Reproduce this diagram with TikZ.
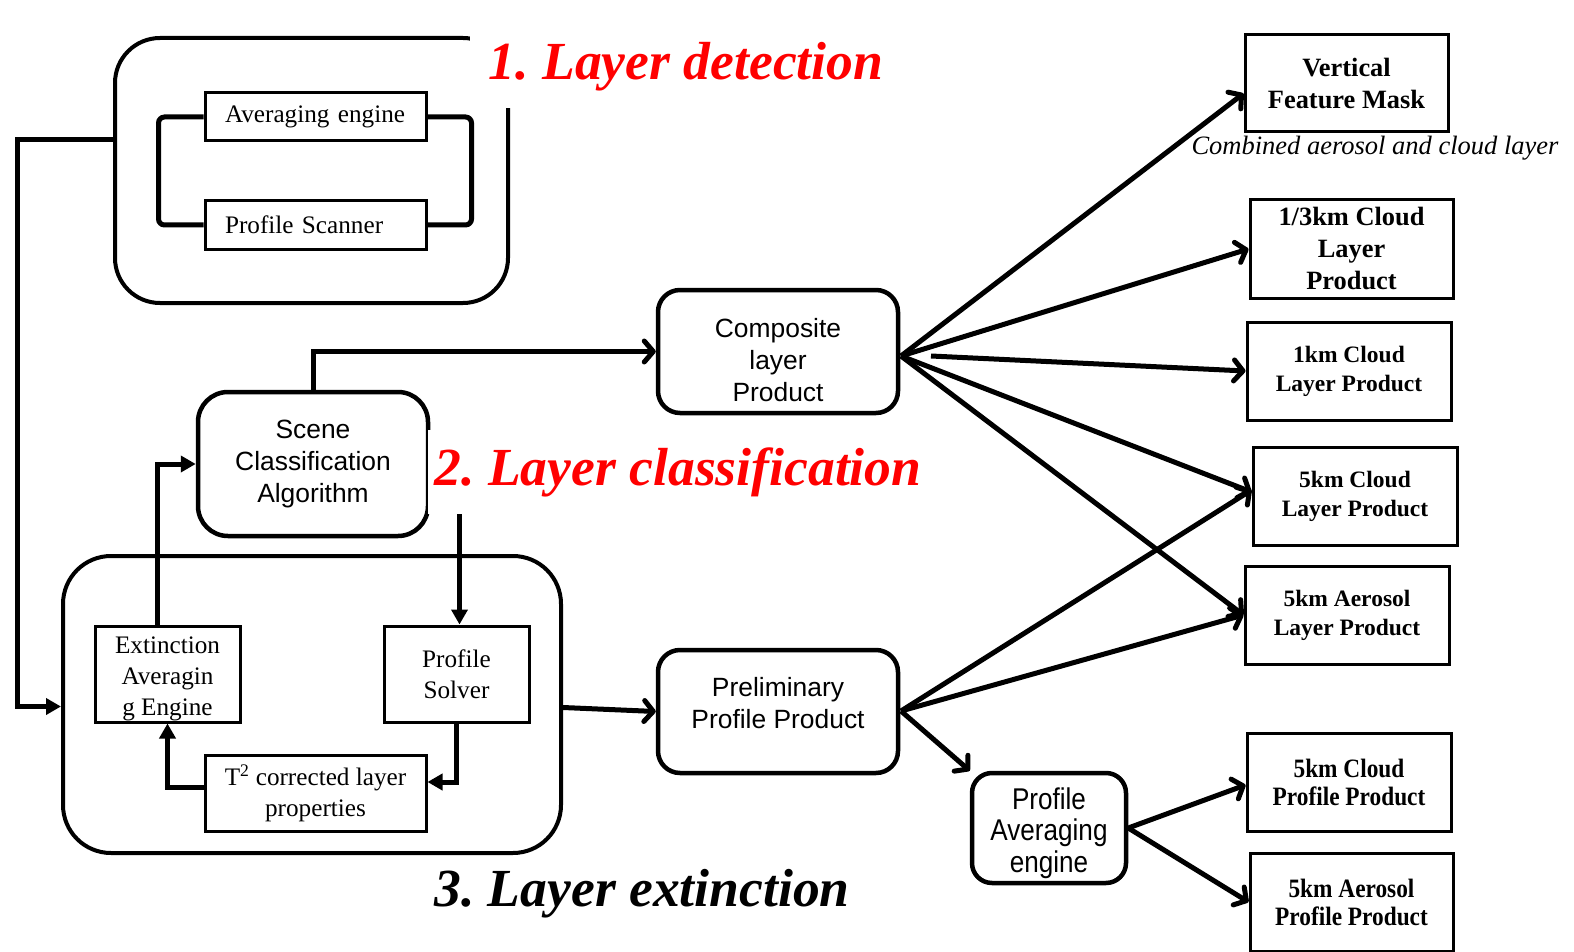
\documentclass[tikz,border=0pt]{standalone}
\usepackage{fontspec}
\setmainfont{Liberation Serif}
\newfontfamily\arialfont{Liberation Sans}
\newfontfamily\narrowarial[FakeStretch=0.87]{Liberation Sans}
\newfontfamily\condserif[FakeStretch=0.88]{Liberation Serif}
\usetikzlibrary{arrows.meta}
\frenchspacing

% text sizes (1pt = 1 pixel of the layout grid)
\newcommand\serifsz{\fontsize{25.2pt}{31pt}\selectfont}
\newcommand\sanssz{\arialfont\fontsize{26.4pt}{32pt}\selectfont}
\newcommand\narrowsz{\narrowarial\fontsize{30pt}{31.5pt}\selectfont}
\newcommand\bigprodsz{\fontsize{26.4pt}{32pt}\selectfont\bfseries}
\newcommand\prodsz{\fontsize{23.5pt}{29pt}\selectfont\bfseries}
\newcommand\condsz{\condserif\fontsize{26.5pt}{28pt}\selectfont\bfseries}
\newcommand\capsz{\fontsize{26.5pt}{31pt}\selectfont\itshape}
\newcommand\titlesz{\fontsize{53.6pt}{60pt}\selectfont\bfseries\itshape}

\begin{document}
\begin{tikzpicture}[x=1pt,y=-1pt,
  rbox/.style={draw, line width=3pt, inner sep=0pt, align=center, font=\serifsz},
  prodbox/.style={draw, line width=3pt, inner sep=0pt, align=center,
                  minimum width=204pt, minimum height=98pt},
  rrbox/.style={draw, line width=4.5pt, rounded corners=22pt, inner sep=0pt,
                align=center, font=\sanssz},
  boxtext/.style={inner sep=0pt, align=center, font=\sanssz},
  gbox/.style={draw, line width=4pt, inner sep=0pt},
  conn/.style={line width=5pt},
  openarr/.style={conn, -{Straight Barb[length=9pt,width=21pt,round]}},
  fillarr/.style={conn, -{Triangle[length=15pt,width=16pt]}},
  title/.style={inner sep=0pt, font=\titlesz},
]
\path[use as bounding box] (0,0) rectangle (1574,952);

% ---- group frames ----
\node[gbox, rounded corners=45pt, minimum width=393pt, minimum height=265pt] (det) at (311.5,170.5) {};
\node[gbox, rounded corners=48pt, minimum width=498pt, minimum height=297pt] (ext) at (312,704.5) {};

% ---- layer detection ----
\node[rbox, align=left, text width=181pt, inner xsep=20pt, minimum height=48pt] (avg) at (315.5,117) {Averaging engine};
\node[rbox, align=left, text width=181pt, inner xsep=20pt, minimum height=48pt] (scan) at (315.5,225) {Profile Scanner};

% ---- layer extinction ----
\node[rbox, minimum width=145pt, minimum height=96pt] (eae) at (167.5,674) {};
\node[boxtext, font=\serifsz] (eaeT) at ([yshift=-5pt]eae.center) {Extinction\\Averagin\\g Engine};
\node[rbox, minimum width=145pt, minimum height=96pt] (solver) at (456.5,674) {Profile\\Solver};
\node[rbox, minimum width=221pt, minimum height=76pt] (t2b) at (315.5,793) {T\textsuperscript{2} corrected layer\\properties};

% ---- classification and intermediate products ----
\node[rrbox, rounded corners=30pt, minimum width=230pt, minimum height=144pt] (scene) at (313,464) {Scene\\Classification\\Algorithm};
\node[rrbox, minimum width=240pt, minimum height=123pt] (comp) at (778,351.5) {};
\node[boxtext] (compT) at ([yshift=-8.5pt]comp.center) {Composite\\layer\\Product};
\node[rrbox, minimum width=240pt, minimum height=123pt] (prelim) at (778,711.5) {};
\node[boxtext] (prelimT) at ([yshift=8pt]prelim.center) {Preliminary\\Profile Product};
\node[rrbox, rounded corners=20pt, minimum width=154pt, minimum height=110pt] (pavg) at (1049,828) {};
\node[boxtext, font=\narrowsz] (pavgT) at ([yshift=-5pt]pavg.center) {Profile\\Averaging\\engine};

% ---- final products ----
\node[prodbox, font=\bigprodsz, minimum width=203pt, minimum height=97pt] (vfm) at (1346.5,83.5) {Vertical\\Feature Mask};
\node[font=\capsz, inner sep=0pt] (cap) at (1375,148) {Combined aerosol and cloud layer};
\node[prodbox, font=\bigprodsz, minimum width=203pt] (c13) at (1351.5,249) {1/3km Cloud\\Layer\\Product};
\node[prodbox, font=\prodsz] (c1) at (1349,371) {1km Cloud\\Layer Product};
\node[prodbox, font=\prodsz] (c5) at (1355,496) {5km Cloud\\Layer Product};
\node[prodbox, font=\prodsz] (a5) at (1347,615) {5km Aerosol\\Layer Product};
\node[prodbox, font=\condsz] (cp5) at (1349,782) {5km Cloud\\Profile Product};
\node[prodbox, font=\condsz, minimum width=203pt] (ap5) at (1351.5,902) {5km Aerosol\\Profile Product};

% ---- connectors ----
% loop between the two detection engines
\draw[conn, rounded corners=6pt] (avg.west) -- ++(-45,0) |- (scan.west);
\draw[conn, rounded corners=6pt] (avg.east) -- ++(44,0) |- (scan.east);

% detection feeds extinction
\coordinate (lbus) at (17,140);
\draw[fillarr] ([yshift=30.5pt]det.west) -- (lbus) |- ([yshift=-2pt]ext.west);

% extinction loop
\draw[fillarr] ([xshift=-10pt]eae.north) |- (scene.west);
\draw[fillarr] (scene.east) -| ([xshift=3pt]solver.north);
\draw[fillarr] (solver.south) |- ([yshift=11pt]t2b.east);
\draw[fillarr] ([yshift=6pt]t2b.west) -| (eae.south);

\draw[openarr] (scene.north) |- (comp.west);
\draw[openarr] ([yshift=-3pt]ext.east) -- (prelim.west);

% fan-out of composite layer product
\coordinate (hubA) at (901,356);
\coordinate (hubA2) at (931,356);
\draw[openarr] (hubA) -- ([yshift=-10pt]vfm.west);
\draw[openarr] (hubA) -- (c13.west);
\draw[openarr] (hubA2) -- (c1.west);
\draw[openarr] (hubA) -- ([yshift=4pt]c5.west);
\draw[openarr] (hubA) -- (a5.west);

% fan-out of preliminary profile product
\coordinate (hubB) at (901,711);
\draw[openarr] (hubB) -- ([yshift=6pt]c5.west);
\draw[openarr] (hubB) -- (a5.west);
\draw[openarr] (hubB) -- (pavg.north west);

\draw[openarr] (pavg.east) -- ([yshift=-3pt]cp5.west);
\draw[openarr] (pavg.east) -- (ap5.west);

% ---- stage titles (white panels mask the lines behind them) ----
\node[title, text=red, fill=white, minimum width=432pt, minimum height=83pt] (ttl1) at (686,67) {1. Layer detection};
\node[title, text=red, fill=white, minimum width=500pt, minimum height=84pt] (ttl2) at (678,472) {2. Layer classification};
\node[title] (ttl3) at (642,894) {3. Layer extinction};
\end{tikzpicture}
\end{document}
